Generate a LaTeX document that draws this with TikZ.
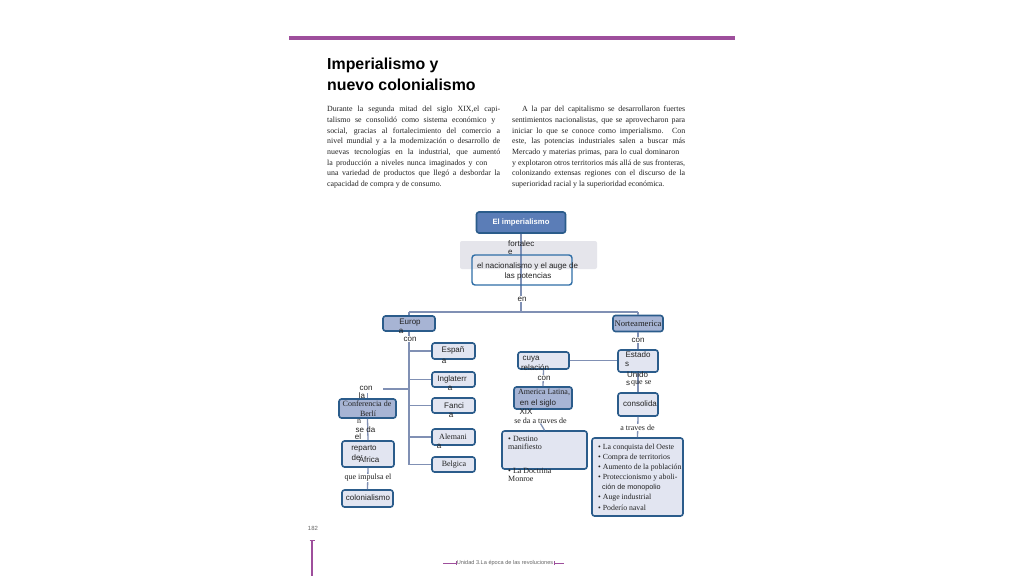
\documentclass[tikz,border=0pt]{standalone}
\usepackage{fontspec}
\setmainfont{Liberation Serif}
\setsansfont{Liberation Sans}
\usetikzlibrary{arrows.meta}
\definecolor{purp}{HTML}{9E4F9C}
\definecolor{bdr}{HTML}{2B5C8B}
\definecolor{lightf}{HTML}{E2E5F1}
\definecolor{medf}{HTML}{A7B4D4}
\definecolor{impf}{HTML}{5B7DB7}
\definecolor{lnc}{HTML}{8090B4}
\definecolor{txt}{HTML}{222222}
\definecolor{bandf}{HTML}{E5E5EB}
\definecolor{nacb}{HTML}{2F6EA6}
\definecolor{foot}{HTML}{666666}
\newcommand\jline[2]{\makebox[#1][s]{#2}}
\begin{document}
\begin{tikzpicture}[x=1pt,y=-1pt,
  box/.style={draw=bdr, line width=1.6pt, rounded corners=2.5pt, fill=lightf, inner sep=0pt},
  mbox/.style={box, fill=medf},
  ss/.style={font=\sffamily\fontsize{8}{8}\selectfont, inner sep=0pt, text=txt},
  sr/.style={font=\fontsize{8}{8}\selectfont, inner sep=0pt, text=txt},
  conn/.style={draw=lnc, line width=1.3pt},
  para/.style={font=\fontsize{7.9}{10.7}\selectfont, inner sep=0pt, align=left, text=txt, anchor=north west}]
\useasboundingbox[fill=white] (0,0) rectangle (1024,576);

% top bar and title
\draw[purp, line width=4pt] (289,38) -- (735,38);
\node[anchor=base west, inner sep=0pt, font=\sffamily\bfseries\fontsize{15.9}{21}\selectfont] (t1) at (327,69) {Imperialismo y};
\node[anchor=base west, inner sep=0pt, font=\sffamily\bfseries\fontsize{15.9}{21}\selectfont] (t2) at (327,90) {nuevo colonialismo};

% paragraphs
\node[para] (pl) at (327,106) {%
\jline{173pt}{Durante la segunda mitad del siglo XIX,el capi-}\\
\jline{168pt}{talismo se consolidó como sistema económico y}\\
\jline{173pt}{social, gracias al fortalecimiento del comercio a}\\
\jline{173pt}{nivel mundial y a la modernización o desarrollo de}\\
\jline{173pt}{nuevas tecnologías en la industrial, que aumentó}\\
\jline{160pt}{la producción a niveles nunca imaginados y con}\\
\jline{173pt}{una variedad de productos que llegó a desbordar la}\\
capacidad de compra y de consumo.};
\node[para] (pr) at (512,106) {%
\hspace*{10pt}\jline{163pt}{A la par del capitalismo se desarrollaron fuertes}\\
\jline{173pt}{sentimientos nacionalistas, que se aprovecharon para}\\
\jline{173pt}{iniciar lo que se conoce como imperialismo. Con}\\
\jline{173pt}{este, las potencias industriales salen a buscar más}\\
\jline{167pt}{Mercado y materias primas, para lo cual dominaron}\\
\jline{173pt}{y explotaron otros territorios más allá de sus fronteras,}\\
\jline{173pt}{colonizando extensas regiones con el discurso de la}\\
superioridad racial y la superioridad económica.};

% top of map
\node[fill=bandf, rounded corners=2pt, minimum width=137pt, minimum height=28pt, inner sep=0pt] (band) at (528.5,255) {};
\node[box, fill=impf, minimum width=89pt, minimum height=21pt, font=\sffamily\bfseries\fontsize{7.7}{8}\selectfont, text=white] (imp) at (521,222.5) {El imperialismo};
\coordinate (hub) at (521,312);
\coordinate (hl) at (409,312);
\coordinate (hr) at (638,312);
\draw[conn] (imp.south) -- (hub);
\node[draw=nacb, line width=1.4pt, rounded corners=3pt, minimum width=100pt, minimum height=30pt, inner sep=0pt] (nac) at (522,270) {};
\node[ss, anchor=west] (fo1) at (508,243.5) {fortalec};
\node[ss, anchor=west] (fo2) at (508,252) {e};
\node[ss] (nac1) at (527.5,266) {el nacionalismo y el auge de};
\node[ss] (nac2) at (528,276) {las potencias};
\node[ss, fill=white, inner sep=1pt] (en) at (522,299) {en};
\draw[conn] (hl) -- (hr);

% Europa
\node[mbox, minimum width=52pt, minimum height=15pt] (eu) at (409,323.5) {};
\node[mbox, minimum width=50pt, minimum height=16pt] (na) at (638,323.5) {};
\draw[conn] (hl) -- (eu.north);
\draw[conn] (hr) -- (na.north);
\node[ss] (eu1) at (410,322.5) {Europ};
\node[ss] (eu2) at (401,331.5) {a};
\node[sr, font=\fontsize{8.6}{9}\selectfont] (na1) at (638,324) {Norteamerica};

\node[box, minimum width=43pt, minimum height=16pt] (es) at (453.5,351) {};
\node[box, minimum width=43pt, minimum height=15pt] (in) at (453.5,379.5) {};
\node[box, minimum width=43pt, minimum height=15pt] (fr) at (453.5,405.5) {};
\node[box, minimum width=43pt, minimum height=16pt] (al) at (453.5,437) {};
\node[box, minimum width=43pt, minimum height=15pt] (be) at (453.5,464.5) {};
\draw[conn] (eu.south) -- (be.west -| eu.south);
\foreach \b in {es,in,fr,al,be} {\draw[conn] (\b.west) -- (\b.west -| eu.south);}
\node[ss, fill=white, inner sep=0.5pt] (con1) at (410,339) {con};
\node[ss] (es1) at (453,350) {Españ};
\node[ss] (es2) at (444,361) {a};
\node[ss] (in1) at (452,379) {Inglaterr};
\node[ss] (in2) at (450,388) {a};
\node[ss] (fr1) at (454,405.5) {Fanci};
\node[ss] (fr2) at (451,415) {a};
\node[sr] (al1) at (453,436.5) {Alemani};
\node[ss] (al2) at (439,446) {a};
\node[sr] (be1) at (454,465) {Belgica};

% Conferencia branch
\coordinate (cl) at (383,389);
\draw[conn] (cl) -- (cl -| eu.south);
\node[ss] (con2) at (366,388.5) {con};
\node[ss] (la) at (362,396) {la};
\node[mbox, minimum width=57pt, minimum height=19pt] (cb) at (367.5,408.5) {};
\coordinate (cbt) at (367.5,393);
\draw[conn] (cbt) -- (cb.north);
\node[sr] (cb1) at (367,404) {Conferencia de};
\node[sr] (cb2) at (368,413.5) {Berlí};
\node[box, minimum width=52pt, minimum height=26pt] (rep) at (368,454) {};
\draw[conn] (cb.south) -- (rep.north);
\node[sr] (cb3) at (359,422) {n};
\node[ss] (sd) at (365.5,430) {se da};
\node[ss] (el) at (358,437) {el};
\node[ss] (r1) at (364,449) {reparto};
\node[ss] (r2) at (356,458) {de};
\node[ss] (r3) at (369,459) {África};
\node[box, minimum width=51pt, minimum height=17pt] (col) at (367.5,498.5) {};
\draw[conn] (rep.south) -- (col.north);
\node[sr, fill=white, inner sep=0.5pt] (qi) at (368,478) {que impulsa el};
\node[ss] (col1) at (368,498) {colonialismo};

% Norteamerica branch
\node[box, minimum width=40pt, minimum height=22pt] (eu2b) at (638,361) {};
\draw[conn] (na.south) -- (eu2b.north);
\node[ss, fill=white, inner sep=0.5pt] (con3) at (638,340) {con};
\node[box, minimum width=51pt, minimum height=17pt] (cuya) at (543.5,360.5) {};
\draw[conn] (cuya.east) -- (cuya.east -| eu2b.west);
\node[mbox, minimum width=58pt, minimum height=22pt] (amer) at (543,398) {};
\draw[conn] (cuya.south) -- (amer.north);
\node[ss] (cu1) at (531,359.5) {cuya};
\node[ss] (cu2) at (535,368) {relación};
\node[ss, fill=white, inner sep=0.5pt] (con4) at (544,378) {con};
\node[sr] (am1) at (544,392.5) {America Latina,};
\node[ss] (am2) at (538,403) {en el siglo};
\node[ss] (am3) at (526,412) {XIX};
\node[sr] (sdt) at (540.5,420.5) {se da a traves de};
\node[box, minimum width=85pt, minimum height=38pt] (dest) at (544.5,450) {};
\draw[conn] (sdt.south) -- (dest.north);
\node[sr, anchor=north west, align=left, font=\fontsize{8}{8.6}\selectfont] (d1) at (508,435.5) {• Destino\\manifiesto};
\node[sr, anchor=north west, align=left, font=\fontsize{8}{8.6}\selectfont] (d2) at (508,467.5) {• La Doctrina\\Monroe};

\node[box, minimum width=40pt, minimum height=23pt] (cons) at (638,404.5) {};
\draw[conn] (eu2b.south) -- (cons.north);
\node[ss] (e1) at (638,355) {Estado};
\node[ss] (e2) at (627,364) {s};
\node[ss] (e3) at (637.5,374.5) {Unido};
\node[ss] (e4) at (628,383.5) {s};
\node[sr, anchor=west] (e5) at (631,383) {que se};
\node[ss] (cons1) at (640,404) {consolida};
\node[box, minimum width=91pt, minimum height=78pt] (big) at (637.5,477) {};
\draw[conn] (cons.south) -- (big.north);
\node[sr, fill=white, inner sep=0.5pt] (atd) at (637.5,427.5) {a traves de};
\node[sr, anchor=north west, align=left, font=\fontsize{7.8}{10.17}\selectfont] (list) at (598,443.5) {%
• La conquista del Oeste\\
• Compra de territorios\\
• Aumento de la población\\
• Proteccionismo y aboli-\\
{\sffamily\fontsize{7.2}{10.17}\selectfont\hspace*{4pt}ción de monopolio}\\
• Auge industrial\\
• Poderío naval};

% footer
\node[font=\sffamily\fontsize{6}{6}\selectfont, text=foot, inner sep=0pt] (pg) at (313,528) {182};
\draw[purp, line width=1.3pt, {Bar[width=5pt,line width=1pt]}-] (312,540) -- (312,576);
\node[font=\sffamily\fontsize{5.6}{6}\selectfont, text=foot, inner sep=0pt] (ft) at (505,563) {Unidad 3.La época de las revoluciones};
\draw[purp, line width=1pt, -{Bar[width=4pt]}] (443,563) -- (ft.west);
\draw[purp, line width=1pt, {Bar[width=4pt]}-] (ft.east) ++(1,0) -- ++(10,0);
\end{tikzpicture}
\end{document}
